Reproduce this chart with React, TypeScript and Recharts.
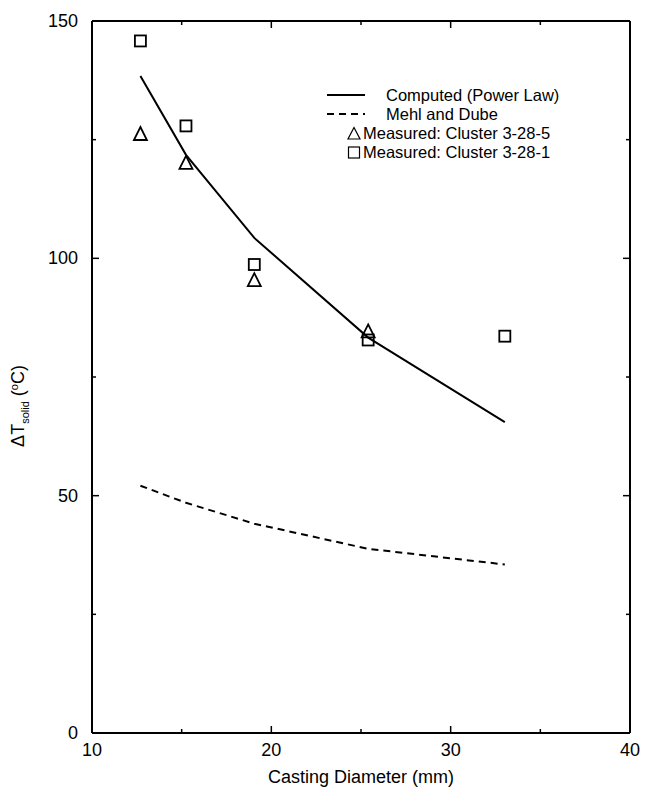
import React from "react";
import {
  ComposedChart,
  Line,
  Scatter,
  XAxis,
  YAxis,
  Legend,
} from "recharts";

// ---- data ----
const diameters = [12.7, 15.24, 19.05, 25.4, 33.02];
const computedPowerLaw = [138.4, 121.8, 104.3, 83.3, 65.5];
const mehlDube = [52.1, 48.5, 44.1, 38.8, 35.5];
const cluster5Diam = [12.7, 15.24, 19.05, 25.4];
const cluster5 = [126.3, 120.2, 95.5, 84.7];
const cluster1Diam = [12.7, 15.24, 19.05, 25.4, 33.02];
const cluster1 = [145.8, 127.9, 98.7, 82.8, 83.6];

const seriesNames = [
  "Computed (Power Law)",
  "Mehl and Dube",
  "Measured: Cluster 3-28-5",
  "Measured: Cluster 3-28-1",
];

const xTicks = [10, 15, 20, 25, 30, 35, 40];
const xMajor = [10, 20, 30, 40];
const yTicks = [0, 25, 50, 75, 100, 125, 150];
const yMajor = [0, 50, 100, 150];

const computedData = diameters.map((x, i) => ({ x, y: computedPowerLaw[i] }));
const mehlData = diameters.map((x, i) => ({ x, y: mehlDube[i] }));
const c5Data = cluster5Diam.map((x, i) => ({ x, y: cluster5[i] }));
const c1Data = cluster1Diam.map((x, i) => ({ x, y: cluster1[i] }));

const FONT = '"Liberation Sans", Arial, Helvetica, sans-serif';
const FS = 18;
const LFS = 16.5;
const MAJ = 7;
const MIN = 4;

const BottomTick = (props: any) => {
  const { x, y, payload } = props;
  const major = xMajor.includes(payload.value);
  return (
    <g>
      <line x1={x} x2={x} y1={y} y2={y - (major ? MAJ : MIN)} stroke="#000" strokeWidth={1.5} />
      {major && (
        <text x={x} y={y + 23} textAnchor="middle" fontFamily={FONT} fontSize={FS} fill="#000">
          {payload.value}
        </text>
      )}
    </g>
  );
};

const TopTick = (props: any) => {
  const { x, y, payload } = props;
  const major = xMajor.includes(payload.value);
  return <line x1={x} x2={x} y1={y} y2={y + (major ? MAJ : MIN)} stroke="#000" strokeWidth={1.5} />;
};

const LeftTick = (props: any) => {
  const { x, y, payload } = props;
  const major = yMajor.includes(payload.value);
  return (
    <g>
      <line x1={x} x2={x + (major ? MAJ : MIN)} y1={y} y2={y} stroke="#000" strokeWidth={1.5} />
      {major && (
        <text x={x - 14} y={y + 6} textAnchor="end" fontFamily={FONT} fontSize={FS} fill="#000">
          {payload.value}
        </text>
      )}
    </g>
  );
};

const RightTick = (props: any) => {
  const { x, y, payload } = props;
  const major = yMajor.includes(payload.value);
  return <line x1={x} x2={x - (major ? MAJ : MIN)} y1={y} y2={y} stroke="#000" strokeWidth={1.5} />;
};

const Square = (props: any) => {
  const { cx, cy } = props;
  if (cx == null || cy == null) return null;
  const s = 5.5;
  return <rect x={cx - s} y={cy - s} width={2 * s} height={2 * s} fill="none" stroke="#000" strokeWidth={1.8} />;
};

const Triangle = (props: any) => {
  const { cx, cy } = props;
  if (cx == null || cy == null) return null;
  const h = 6.5;
  return (
    <path
      d={`M${cx},${cy - h} L${cx + 6.5},${cy + h} L${cx - 6.5},${cy + h} Z`}
      fill="none"
      stroke="#000"
      strokeWidth={1.8}
      strokeLinejoin="miter"
    />
  );
};

const LegendContent = () => {
  const ts = { fontFamily: FONT, fontSize: LFS, fill: "#000" } as const;
  return (
    <svg width={300} height={100} style={{ display: "block" }}>
      <line x1={27} x2={65} y1={15} y2={15} stroke="#000" strokeWidth={2} />
      <text x={86} y={21} {...ts}>{seriesNames[0]}</text>
      <line x1={27} x2={65} y1={34} y2={34} stroke="#000" strokeWidth={2} strokeDasharray="7 5" />
      <text x={86} y={40} {...ts}>{seriesNames[1]}</text>
      <path d="M54,47.5 L60,59 L48,59 Z" fill="none" stroke="#000" strokeWidth={1.2} />
      <text x={63} y={59} {...ts}>{seriesNames[2]}</text>
      <rect x={48.5} y={67} width={11} height={11} fill="none" stroke="#000" strokeWidth={1.2} />
      <text x={63} y={78} {...ts}>{seriesNames[3]}</text>
    </svg>
  );
};

export default function App() {
  return (
    <div style={{ position: "absolute", left: 0, top: 0, width: 647, height: 789, background: "#fff" }}>
      <ComposedChart
        width={647}
        height={789}
        margin={{ top: 20, right: 16, bottom: 26, left: 32 }}
      >
        <XAxis
          dataKey="x"
          type="number"
          domain={[10, 40]}
          ticks={xTicks}
          interval={0}
          allowDataOverflow
          tickLine={false}
          tickSize={0}
          tickMargin={0}
          tick={<BottomTick />}
          axisLine={{ stroke: "#000", strokeWidth: 2 }}
          height={30}
          label={{
            value: "Casting Diameter (mm)",
            position: "insideBottom",
            offset: -20,
            style: { fontFamily: FONT, fontSize: FS, fill: "#000" },
          }}
        />
        <XAxis
          xAxisId="top"
          orientation="top"
          dataKey="x"
          type="number"
          domain={[10, 40]}
          ticks={xTicks}
          interval={0}
          allowDataOverflow
          tickLine={false}
          tickSize={0}
          tickMargin={0}
          tick={<TopTick />}
          axisLine={{ stroke: "#000", strokeWidth: 2 }}
          height={1}
        />
        <YAxis
          dataKey="y"
          type="number"
          domain={[0, 150]}
          ticks={yTicks}
          interval={0}
          allowDataOverflow
          tickLine={false}
          tickSize={0}
          tickMargin={0}
          tick={<LeftTick />}
          axisLine={{ stroke: "#000", strokeWidth: 2 }}
          width={60}
        />
        <YAxis
          yAxisId="right"
          orientation="right"
          type="number"
          domain={[0, 150]}
          ticks={yTicks}
          interval={0}
          allowDataOverflow
          tickLine={false}
          tickSize={0}
          tickMargin={0}
          tick={<RightTick />}
          axisLine={{ stroke: "#000", strokeWidth: 2 }}
          width={1}
        />
        <Legend
          layout="horizontal"
          verticalAlign="middle"
          align="center"
          wrapperStyle={{ position: "absolute", left: 300, top: 80, width: 300, height: 100 }}
          content={<LegendContent />}
        />
        <Line
          data={computedData}
          dataKey="y"
          name={seriesNames[0]}
          type="linear"
          stroke="#000"
          strokeWidth={2}
          dot={false}
          activeDot={false}
          isAnimationActive={false}
        />
        <Line
          data={mehlData}
          dataKey="y"
          name={seriesNames[1]}
          type="linear"
          stroke="#000"
          strokeWidth={2}
          strokeDasharray="7 5"
          dot={false}
          activeDot={false}
          isAnimationActive={false}
        />
        <Scatter
          data={c5Data}
          dataKey="y"
          name={seriesNames[2]}
          shape={<Triangle />}
          isAnimationActive={false}
        />
        <Scatter
          data={c1Data}
          dataKey="y"
          name={seriesNames[3]}
          shape={<Square />}
          isAnimationActive={false}
        />
        <text
          x={24}
          y={406}
          transform="rotate(-90 24 406)"
          textAnchor="middle"
          fontFamily={FONT}
          fontSize={FS}
          fill="#000"
        >
          ΔT
          <tspan fontSize={11} dy={5}>solid</tspan>
          <tspan dy={-5}> (</tspan>
          <tspan fontSize={11} dy={-6}>o</tspan>
          <tspan dy={6}>C)</tspan>
        </text>
      </ComposedChart>
    </div>
  );
}
